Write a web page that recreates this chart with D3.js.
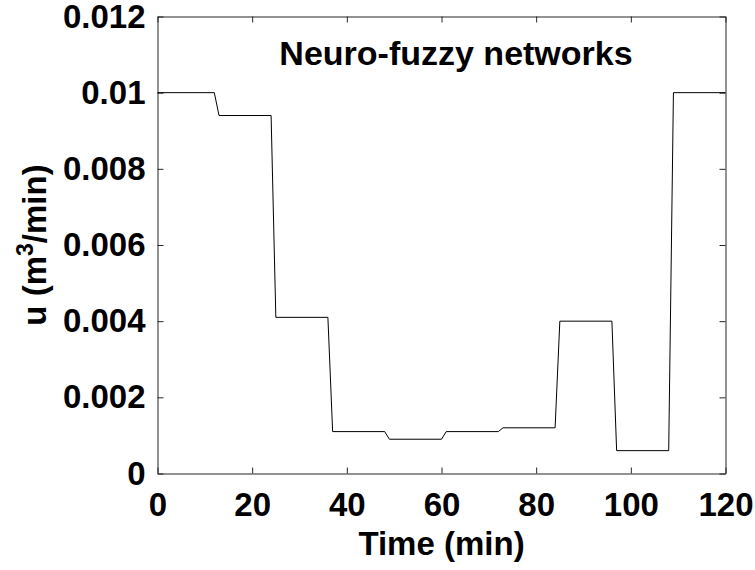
<!DOCTYPE html>
<html>
<head>
<meta charset="utf-8">
<script src="https://cdn.jsdelivr.net/npm/d3@7"></script>
<style>
  html, body { margin: 0; padding: 0; background: #fff; }
  svg { display: block; }
  text { font-family: "Liberation Sans", Arial, Helvetica, sans-serif; font-weight: bold; fill: #000; }
</style>
</head>
<body>
<svg id="chart" width="755" height="570"></svg>
<script>
// Control input u over time (piecewise levels with 1-minute transitions)
const timeMin = [0, 12, 13, 24, 25, 36, 37, 48, 49, 60, 61, 72, 73, 84, 85, 96, 97, 108, 109, 120];
const flowU   = [0.01, 0.01, 0.0094, 0.0094, 0.0041, 0.0041, 0.0011, 0.0011, 0.0009, 0.0009,
                 0.0011, 0.0011, 0.0012, 0.0012, 0.004, 0.004, 0.0006, 0.0006, 0.01, 0.01];

const xTicks = [0, 20, 40, 60, 80, 100, 120];
const yTicks = [0, 0.002, 0.004, 0.006, 0.008, 0.01, 0.012];
const yTickLabels = ["0", "0.002", "0.004", "0.006", "0.008", "0.01", "0.012"];

const titleText = "Neuro-fuzzy networks";
const xLabel = "Time (min)";

const W = 755, H = 570;
const margin = { left: 157.5, top: 16.5, right: 29.5, bottom: 96.5 };
const axisColor = "#262626";
const fontSize = 33;

const svg = d3.select("#chart");

const x = d3.scaleLinear().domain([0, 120]).range([margin.left, W - margin.right]);
const y = d3.scaleLinear().domain([0, 0.012]).range([H - margin.bottom, margin.top]);

// Bottom axis with labels, ticks pointing inward
const gBottom = svg.append("g")
  .attr("transform", `translate(0,${H - margin.bottom})`)
  .call(d3.axisBottom(x).tickValues(xTicks).tickSizeInner(-6).tickSizeOuter(0).tickPadding(19)
    .tickFormat(d3.format("d")));

// Top axis: ticks only
const gTop = svg.append("g")
  .attr("transform", `translate(0,${margin.top})`)
  .call(d3.axisTop(x).tickValues(xTicks).tickSizeInner(-6).tickSizeOuter(0).tickFormat(""));

// Left axis with labels
const gLeft = svg.append("g")
  .attr("transform", `translate(${margin.left},0)`)
  .call(d3.axisLeft(y).tickValues(yTicks).tickSizeInner(-6).tickSizeOuter(0).tickPadding(12)
    .tickFormat((d, i) => yTickLabels[i]));

// Right axis: ticks only
const gRight = svg.append("g")
  .attr("transform", `translate(${W - margin.right},0)`)
  .call(d3.axisRight(y).tickValues(yTicks).tickSizeInner(-6).tickSizeOuter(0).tickFormat(""));

[gBottom, gTop, gLeft, gRight].forEach(g => {
  g.select(".domain").attr("stroke", axisColor).attr("stroke-width", 1);
  g.selectAll(".tick line").attr("stroke", axisColor).attr("stroke-width", 1);
  g.selectAll(".tick text")
    .attr("fill", "#000")
    .style("font-size", fontSize + "px")
    .style("font-weight", "bold")
    .style("font-family", '"Liberation Sans", Arial, Helvetica, sans-serif');
});

// Data line
const pts = timeMin.map((t, i) => [t, flowU[i]]);
svg.append("path")
  .datum(pts)
  .attr("fill", "none")
  .attr("stroke", "#000")
  .attr("stroke-width", 1)
  .attr("d", d3.line().x(d => x(d[0])).y(d => y(d[1])));

// Title inside the axes
svg.append("text")
  .attr("x", 456)
  .attr("y", 65)
  .attr("text-anchor", "middle")
  .style("font-size", "34px")
  .text(titleText);

// X axis label
svg.append("text")
  .attr("x", (margin.left + W - margin.right) / 2)
  .attr("y", 555)
  .attr("text-anchor", "middle")
  .style("font-size", fontSize + "px")
  .text(xLabel);

// Y axis label with superscript
const yl = svg.append("text")
  .attr("transform", `translate(46,${(margin.top + H - margin.bottom) / 2}) rotate(-90)`)
  .attr("text-anchor", "middle")
  .style("font-size", fontSize + "px");
yl.append("tspan").text("u (m");
yl.append("tspan").attr("dy", -13).style("font-size", "23px").text("3");
yl.append("tspan").attr("dy", 13).text("/min)");
</script>
</body>
</html>
